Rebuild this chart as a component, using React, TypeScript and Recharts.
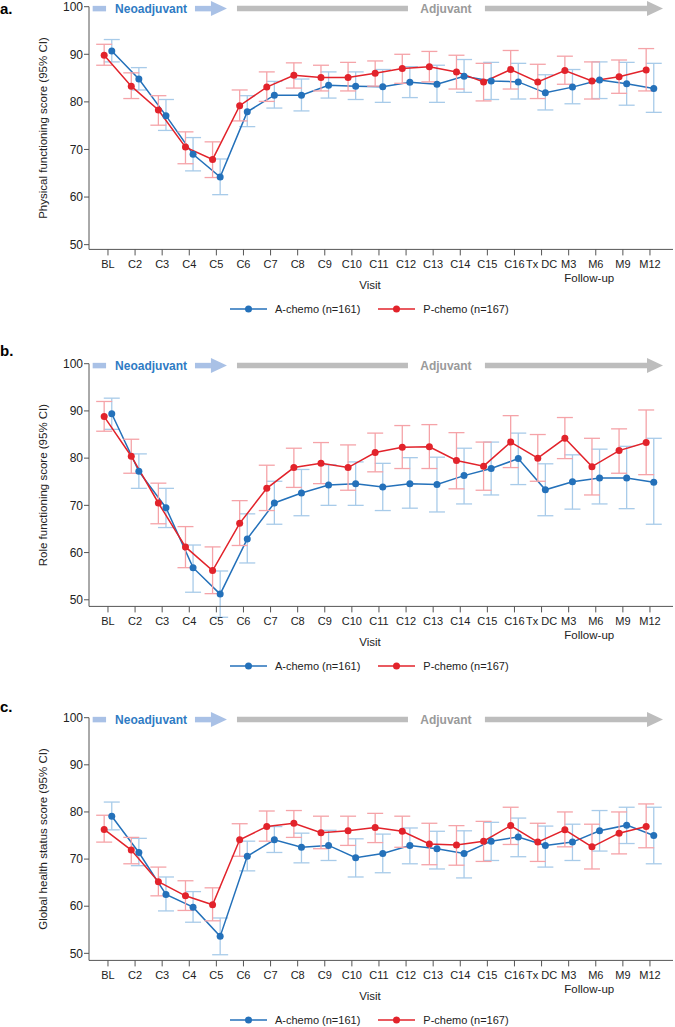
import React from 'react';
import { LineChart, Line, XAxis, YAxis, ErrorBar, Legend, ReferenceLine, ReferenceDot } from 'recharts';

// Visits on the x axis
const visits = ['BL', 'C2', 'C3', 'C4', 'C5', 'C6', 'C7', 'C8', 'C9', 'C10', 'C11', 'C12', 'C13', 'C14', 'C15', 'C16', 'Tx DC', 'M3', 'M6', 'M9', 'M12'];
const yTicks = [50, 60, 70, 80, 90, 100];

// a. Physical functioning
const physA = [90.7, 84.8, 77.1, 69.0, 64.2, 77.9, 81.4, 81.4, 83.5, 83.3, 83.2, 84.1, 83.7, 85.4, 84.4, 84.2, 81.9, 83.1, 84.6, 83.8, 82.8];
const physALow = [88.4, 82.5, 74.0, 65.5, 60.5, 74.8, 78.7, 78.1, 80.8, 80.5, 79.9, 80.9, 79.9, 82.0, 80.5, 80.6, 78.3, 79.6, 80.7, 79.3, 77.8];
const physAHigh = [93.1, 87.2, 80.5, 72.5, 68.0, 81.3, 84.3, 84.8, 86.3, 86.3, 86.8, 87.4, 87.7, 88.9, 88.3, 88.1, 85.7, 86.8, 88.4, 88.3, 88.1];
const physP = [89.8, 83.3, 78.3, 70.5, 67.9, 79.2, 83.1, 85.6, 85.1, 85.1, 86.0, 87.0, 87.4, 86.3, 84.2, 86.8, 84.2, 86.6, 84.4, 85.3, 86.7];
const physPLow = [87.7, 80.7, 75.1, 67.0, 64.1, 76.0, 80.1, 82.9, 82.3, 82.3, 83.3, 83.9, 84.2, 82.7, 80.2, 82.7, 80.7, 83.7, 80.6, 81.8, 82.3];
const physPHigh = [92.1, 86.1, 81.3, 73.7, 71.6, 82.5, 86.3, 88.2, 87.7, 88.3, 88.6, 90.0, 90.6, 89.8, 88.1, 90.8, 87.9, 89.6, 88.4, 88.8, 91.2];

// b. Role functioning
const roleA = [89.4, 77.2, 69.5, 56.8, 51.2, 62.9, 70.5, 72.6, 74.3, 74.6, 73.9, 74.6, 74.4, 76.3, 77.8, 79.9, 73.3, 75.0, 75.8, 75.8, 74.9];
const roleALow = [86.1, 73.6, 65.3, 51.6, 46.3, 57.8, 66.0, 67.8, 70.0, 70.0, 68.9, 69.4, 68.6, 70.3, 72.2, 74.4, 67.8, 69.2, 70.3, 69.3, 66.0];
const roleAHigh = [92.7, 80.9, 73.6, 61.6, 56.1, 68.2, 75.1, 77.6, 78.6, 79.2, 78.9, 80.1, 80.2, 82.1, 83.4, 85.3, 78.8, 80.7, 81.9, 82.5, 84.2];
const roleP = [88.8, 80.4, 70.5, 61.2, 56.2, 66.2, 73.6, 78.0, 78.9, 78.0, 81.2, 82.3, 82.4, 79.5, 78.3, 83.4, 80.0, 84.2, 78.2, 81.6, 83.3];
const rolePLow = [85.7, 76.8, 66.1, 56.8, 51.3, 61.5, 68.9, 73.8, 74.6, 73.2, 77.1, 77.8, 77.8, 73.5, 73.2, 78.0, 75.1, 79.9, 72.2, 76.8, 76.5];
const rolePHigh = [92.0, 84.0, 74.7, 65.5, 61.2, 71.0, 78.5, 82.1, 83.3, 82.8, 85.3, 86.9, 87.1, 85.4, 83.4, 89.0, 85.0, 88.6, 84.2, 86.2, 90.2];

// c. Global health status
const ghsA = [79.1, 71.4, 62.5, 59.8, 53.6, 70.6, 74.1, 72.5, 72.9, 70.3, 71.2, 72.9, 72.2, 71.2, 73.8, 74.7, 72.9, 73.6, 76.0, 77.2, 75.0];
const ghsALow = [76.2, 68.6, 59.0, 56.6, 49.7, 67.5, 71.4, 69.2, 69.7, 66.2, 67.1, 69.0, 67.9, 66.0, 69.7, 70.5, 68.3, 69.7, 71.7, 73.3, 69.0];
const ghsAHigh = [82.1, 74.4, 66.2, 63.1, 57.5, 73.8, 76.9, 75.5, 76.1, 74.3, 75.3, 76.6, 75.9, 76.0, 77.8, 78.7, 77.0, 77.4, 80.3, 81.0, 81.0];
const ghsP = [76.3, 71.9, 65.2, 62.2, 60.3, 74.1, 76.9, 77.6, 75.6, 76.0, 76.7, 75.9, 73.2, 73.0, 73.8, 77.1, 73.6, 76.2, 72.6, 75.5, 76.9];
const ghsPLow = [73.6, 69.0, 62.2, 59.1, 56.9, 70.6, 73.8, 74.6, 72.2, 72.9, 73.5, 72.5, 68.8, 68.7, 69.5, 73.1, 69.5, 72.6, 67.9, 71.1, 72.4];
const ghsPHigh = [79.3, 74.6, 68.3, 65.4, 63.9, 77.5, 80.2, 80.3, 79.1, 79.1, 79.7, 79.1, 77.6, 77.1, 78.0, 81.0, 77.6, 80.0, 77.4, 80.0, 81.7];

const BLUE = '#2471ba';
const RED = '#e2232b';
const BLUE_CI = '#a8cbe9';
const RED_CI = '#f5a3a8';
const AXIS = '#555';
const TEXT = '#222';
const DODGE = 0.14;
const BANNER_Y = 99.6;

function build(mean: number[], low: number[], high: number[], shift: number) {
  return mean.map((m, i) => ({
    x: i + shift,
    y: m,
    err: [+(m - low[i]).toFixed(2), +(high[i] - m).toFixed(2)],
  }));
}

const arrowHead = (color: string) => (props: any) => (
  <polygon
    points={`${props.cx - 16},${props.cy - 7.5} ${props.cx},${props.cy} ${props.cx - 16},${props.cy + 7.5}`}
    fill={color}
  />
);

const bannerText = (text: string, color: string) => (props: any) => (
  <text x={props.cx} y={props.cy} textAnchor="middle" dominantBaseline="central" fontSize={12} fontWeight="bold" fill={color}>
    {text}
  </text>
);

const axisText = (text: string, dy: number) => (props: any) => (
  <text x={props.cx} y={props.cy + dy} textAnchor="middle" dominantBaseline="central" fontSize={11.5} fill={TEXT}>
    {text}
  </text>
);

const yLabel = (text: string) => (props: any) => {
  const vb = props.viewBox;
  const cx = vb.x + 43;
  const cy = vb.y + vb.height / 2;
  return (
    <text x={cx} y={cy} transform={`rotate(-90, ${cx}, ${cy})`} textAnchor="middle" dominantBaseline="central" fontSize={11.5} fill={TEXT}>
      {text}
    </text>
  );
};

const renderLegend = (props: any) => (
  <div style={{ display: 'flex', alignItems: 'center', fontSize: 11, color: TEXT }}>
    {(props.payload || []).map((e: any) => (
      <span key={e.value} style={{ display: 'flex', alignItems: 'center', marginRight: 18 }}>
        <svg width={37} height={10}>
          <line x1={0} y1={5} x2={37} y2={5} stroke={e.color} strokeWidth={1.5} />
          <circle cx={18.5} cy={5} r={3.5} fill={e.color} />
        </svg>
        <span style={{ marginLeft: 8 }}>{e.value}</span>
      </span>
    ))}
  </div>
);

interface PanelProps {
  top: number;
  title: string;
  yMin: number;
  aMean: number[];
  aLow: number[];
  aHigh: number[];
  pMean: number[];
  pLow: number[];
  pHigh: number[];
}

function Panel({ top, title, yMin, aMean, aLow, aHigh, pMean, pLow, pHigh }: PanelProps) {
  const aData = build(aMean, aLow, aHigh, DODGE);
  const pData = build(pMean, pLow, pHigh, -DODGE);
  return (
    <div style={{ position: 'absolute', left: 0, top, width: 675, height: 320 }}>
      <LineChart width={675} height={320} margin={{ top: 6.7, right: 2, bottom: 40.6, left: 0 }}>
        <XAxis
          type="number"
          dataKey="x"
          domain={[-0.7, 20.85]}
          allowDataOverflow
          ticks={visits.map((_, i) => i)}
          interval={0}
          tickFormatter={(i: number) => visits[i]}
          height={30}
          tickSize={6}
          tickMargin={5}
          tick={{ fontSize: 11, fill: TEXT }}
          stroke={AXIS}
        />
        <YAxis
          type="number"
          domain={[yMin, 100]}
          allowDataOverflow
          ticks={yTicks}
          interval={0}
          width={89}
          tickSize={5}
          tickMargin={1}
          tick={{ fontSize: 12, fill: TEXT }}
          stroke={AXIS}
          label={yLabel(title)}
        />

        {/* treatment phase banner */}
        <ReferenceLine segment={[{ x: -0.565, y: BANNER_Y }, { x: -0.07, y: BANNER_Y }]} stroke="#a9c1e6" strokeWidth={5.5} ifOverflow="visible" />
        <ReferenceDot x={1.59} y={BANNER_Y} ifOverflow="visible" shape={bannerText('Neoadjuvant', '#2f7bc4')} />
        <ReferenceLine segment={[{ x: 3.21, y: BANNER_Y }, { x: 3.8, y: BANNER_Y }]} stroke="#a9c1e6" strokeWidth={5.5} ifOverflow="visible" />
        <ReferenceDot x={4.39} y={BANNER_Y} ifOverflow="visible" shape={arrowHead('#a9c1e6')} />
        <ReferenceLine segment={[{ x: 4.76, y: BANNER_Y }, { x: 11.07, y: BANNER_Y }]} stroke="#bdbdbd" strokeWidth={5.5} ifOverflow="visible" />
        <ReferenceDot x={12.47} y={BANNER_Y} ifOverflow="visible" shape={bannerText('Adjuvant', '#9a9a9a')} />
        <ReferenceLine segment={[{ x: 13.91, y: BANNER_Y }, { x: 19.95, y: BANNER_Y }]} stroke="#bdbdbd" strokeWidth={5.5} ifOverflow="visible" />
        <ReferenceDot x={20.48} y={BANNER_Y} ifOverflow="visible" shape={arrowHead('#bdbdbd')} />

        {/* axis titles under the ticks */}
        <ReferenceDot x={9.67} y={yMin} ifOverflow="visible" shape={axisText('Visit', 35.7)} />
        <ReferenceDot x={17.76} y={yMin} ifOverflow="visible" shape={axisText('Follow-up', 28.7)} />

        <Line
          data={aData}
          dataKey="y"
          name="A-chemo (n=161)"
          stroke={BLUE}
          strokeWidth={1.5}
          dot={{ r: 3.5, fill: BLUE, stroke: BLUE, strokeWidth: 0 }}
          activeDot={false}
          isAnimationActive={false}
        >
          <ErrorBar dataKey="err" direction="y" width={8} stroke={BLUE_CI} strokeWidth={1.3} isAnimationActive={false} />
        </Line>
        <Line
          data={pData}
          dataKey="y"
          name="P-chemo (n=167)"
          stroke={RED}
          strokeWidth={1.5}
          dot={{ r: 3.5, fill: RED, stroke: RED, strokeWidth: 0 }}
          activeDot={false}
          isAnimationActive={false}
        >
          <ErrorBar dataKey="err" direction="y" width={8} stroke={RED_CI} strokeWidth={1.3} isAnimationActive={false} />
        </Line>

        <Legend
          layout="horizontal"
          verticalAlign="middle"
          align="center"
          content={renderLegend}
          wrapperStyle={{ left: 230, top: 303, width: 400, height: 16 }}
        />
      </LineChart>
    </div>
  );
}

const letterStyle: React.CSSProperties = {
  position: 'absolute',
  left: 0,
  fontSize: 15,
  fontWeight: 'bold',
  lineHeight: '17px',
  color: '#000',
};

export default function App() {
  return (
    <div
      style={{
        position: 'absolute',
        left: 0,
        top: 0,
        width: 675,
        height: 1027,
        overflow: 'hidden',
        background: '#fff',
        fontFamily: '"Liberation Sans", Arial, sans-serif',
      }}
    >
      <Panel top={0} title="Physical functioning score (95% CI)" yMin={49}
        aMean={physA} aLow={physALow} aHigh={physAHigh} pMean={physP} pLow={physPLow} pHigh={physPHigh} />
      <Panel top={356.6} title="Role functioning score (95% CI)" yMin={48.6}
        aMean={roleA} aLow={roleALow} aHigh={roleAHigh} pMean={roleP} pLow={rolePLow} pHigh={rolePHigh} />
      <Panel top={711} title="Global health status score (95% CI)" yMin={48.5}
        aMean={ghsA} aLow={ghsALow} aHigh={ghsAHigh} pMean={ghsP} pLow={ghsPLow} pHigh={ghsPHigh} />
      <div style={{ ...letterStyle, top: 0 }}>a.</div>
      <div style={{ ...letterStyle, top: 342 }}>b.</div>
      <div style={{ ...letterStyle, top: 698 }}>c.</div>
    </div>
  );
}
